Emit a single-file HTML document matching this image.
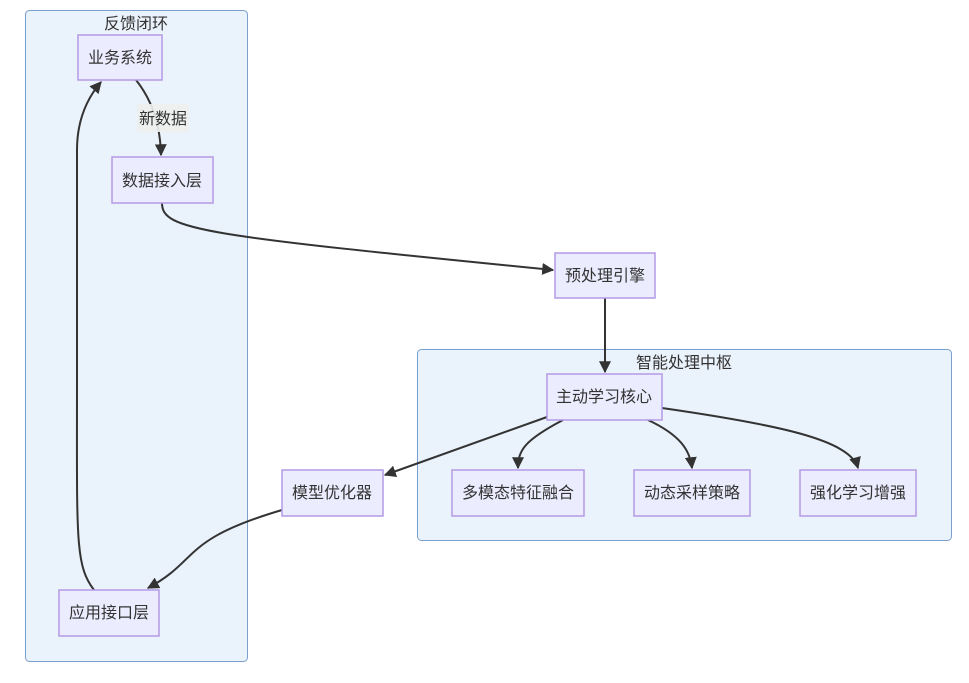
<!DOCTYPE html>
<html><head><meta charset="utf-8"><style>
body{margin:0;background:#fff;width:969px;height:678px;overflow:hidden;font-family:"Liberation Sans","Noto Sans CJK SC",sans-serif;}
</style></head><body>
<svg width="969" height="678" xmlns="http://www.w3.org/2000/svg" style="font-family:'Liberation Sans','Noto Sans CJK SC',sans-serif">
<defs><marker id="a" viewBox="0 0 10 10" refX="9" refY="5" markerWidth="6" markerHeight="6" orient="auto-start-reverse"><path d="M0,0L10,5L0,10z" fill="#333"/></marker></defs>
<rect x="25.5" y="10.5" width="222" height="651" rx="4" fill="#eaf2fb" stroke="#7b9fcf"/>
<rect x="417.5" y="349.5" width="534" height="191" rx="4" fill="#eaf2fb" stroke="#7b9fcf"/>
<text x="136" y="29" font-size="16" text-anchor="middle" fill="#333">反馈闭环</text>
<text x="684" y="368" font-size="16" text-anchor="middle" fill="#333">智能处理中枢</text>
<g fill="none" stroke="#333" stroke-width="2">
<path d="M136,80 Q160,110 161,155" marker-end="url(#a)"/>
<path d="M162,203 C162,230 200,235 553,270" marker-end="url(#a)"/>
<path d="M605,298 L605,372" marker-end="url(#a)"/>
<path d="M547,417 L385,475" marker-end="url(#a)"/>
<path d="M563,420 C525,440 518,450 518,468" marker-end="url(#a)"/>
<path d="M648,420 C680,435 690,450 692,468" marker-end="url(#a)"/>
<path d="M662,408 C780,425 850,440 858,468" marker-end="url(#a)"/>
<path d="M282,510 C180,540 200,560 148,588" marker-end="url(#a)"/>
<path d="M94,590 C75,565 77,540 77,380 L77,150 Q77,110 101,82" marker-end="url(#a)"/>
</g>
<rect x="137" y="104" width="52" height="28" fill="#eef0ee" opacity="0.9"/>
<text x="163" y="124" font-size="16" text-anchor="middle" fill="#333">新数据</text>
<g fill="#ececff" stroke="#b49ae6" stroke-width="1.5">
<rect x="78" y="35" width="84" height="45"/>
<rect x="112" y="157" width="101" height="46"/>
<rect x="555" y="253" width="100" height="45"/>
<rect x="547" y="374" width="115" height="46"/>
<rect x="452" y="470" width="132" height="46"/>
<rect x="634" y="470" width="116" height="46"/>
<rect x="800" y="470" width="116" height="46"/>
<rect x="282" y="470" width="101" height="46"/>
<rect x="59" y="590" width="100" height="46"/>
</g>
<g font-size="16" fill="#333" text-anchor="middle">
<text x="120" y="63">业务系统</text>
<text x="162" y="186">数据接入层</text>
<text x="605" y="281">预处理引擎</text>
<text x="604" y="402">主动学习核心</text>
<text x="518" y="498">多模态特征融合</text>
<text x="692" y="498">动态采样策略</text>
<text x="858" y="498">强化学习增强</text>
<text x="332" y="498">模型优化器</text>
<text x="109" y="618">应用接口层</text>
</g>
</svg>
</body></html>
